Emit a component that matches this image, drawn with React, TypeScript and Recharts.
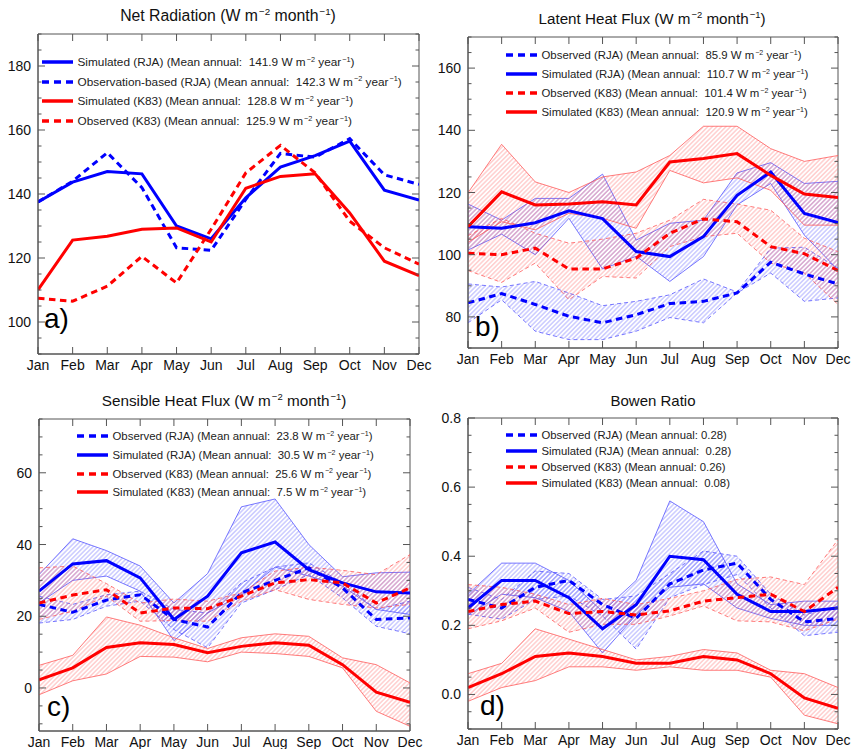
import React from "react"
import { ComposedChart, Line, Area, XAxis, YAxis, ReferenceArea } from "recharts"

const MONTHS = ["Jan", "Feb", "Mar", "Apr", "May", "Jun", "Jul", "Aug", "Sep", "Oct", "Nov", "Dec"]

// a) net radiation
const NET_SIM_RJA = [137.5, 143.7, 147.0, 146.3, 130.0, 126.0, 138.8, 148.4, 152.0, 156.5, 141.2, 138.1]
const NET_OBS_RJA = [137.5, 144.0, 152.9, 142.0, 123.2, 122.4, 138.3, 152.7, 151.5, 157.3, 146.0, 143.0]
const NET_SIM_K83 = [110.0, 125.6, 126.8, 129.0, 129.4, 125.0, 141.8, 145.5, 146.3, 134.1, 119.0, 114.5]
const NET_OBS_K83 = [107.4, 106.5, 111.2, 120.5, 112.2, 129.0, 146.6, 155.2, 146.6, 131.5, 123.2, 118.1]

// b) latent heat flux
const LE_OBS_RJA = [84.5, 87.5, 84.0, 80.2, 78.1, 80.7, 84.3, 85.0, 87.7, 97.6, 93.8, 90.6]
const LE_OBS_RJA_HI = [90.6, 89.6, 91.4, 87.7, 83.6, 85.0, 87.1, 92.2, 88.0, 102.1, 102.4, 95.7]
const LE_OBS_RJA_LO = [78.1, 85.5, 75.4, 72.7, 72.7, 75.4, 79.8, 78.1, 87.7, 94.1, 85.0, 86.1]
const LE_SIM_RJA = [109.0, 108.5, 110.3, 114.1, 111.6, 101.0, 99.4, 105.8, 119.1, 126.6, 113.3, 110.3]
const LE_SIM_RJA_HI = [116.3, 111.1, 118.1, 118.1, 125.9, 104.7, 110.1, 111.1, 126.3, 129.6, 122.9, 123.6]
const LE_SIM_RJA_LO = [101.5, 106.6, 100.0, 111.7, 95.4, 99.5, 91.4, 99.4, 116.0, 122.9, 106.3, 95.1]
const LE_OBS_K83 = [100.5, 100.0, 102.1, 95.4, 95.4, 98.9, 106.9, 111.5, 110.6, 102.6, 100.3, 94.9]
const LE_OBS_K83_HI = [106.1, 111.7, 106.9, 103.7, 105.0, 106.9, 111.1, 117.8, 116.3, 114.3, 105.3, 101.0]
const LE_OBS_K83_LO = [94.9, 91.1, 97.3, 85.5, 93.0, 92.5, 102.6, 105.8, 106.9, 97.3, 94.1, 84.0]
const LE_SIM_K83 = [109.0, 120.2, 116.0, 116.3, 117.0, 116.0, 129.8, 130.9, 132.5, 125.5, 119.5, 118.4]
const LE_SIM_K83_HI = [119.9, 135.5, 123.4, 120.0, 125.0, 126.6, 131.9, 141.3, 141.3, 134.1, 130.0, 131.9]
const LE_SIM_K83_LO = [104.0, 110.6, 108.0, 113.3, 111.7, 108.5, 127.1, 123.1, 124.7, 120.7, 109.5, 109.5]

// c) sensible heat flux
const SH_OBS_RJA = [23.3, 21.1, 24.5, 26.0, 19.1, 17.0, 26.5, 30.0, 33.5, 27.9, 19.1, 19.5]
const SH_OBS_RJA_HI = [25.6, 23.3, 26.0, 27.0, 21.9, 20.9, 29.3, 33.7, 34.9, 29.3, 21.9, 24.2]
const SH_OBS_RJA_LO = [18.1, 19.1, 22.8, 24.2, 16.3, 11.2, 23.7, 27.4, 31.6, 25.1, 17.2, 15.1]
const SH_SIM_RJA = [27.0, 34.6, 35.5, 30.7, 19.1, 25.6, 37.7, 40.7, 33.0, 29.3, 26.8, 26.5]
const SH_SIM_RJA_HI = [31.6, 41.6, 38.3, 34.0, 23.7, 31.9, 50.5, 52.7, 40.0, 31.0, 32.1, 32.3]
const SH_SIM_RJA_LO = [23.7, 30.0, 31.2, 27.0, 13.2, 20.9, 26.0, 33.7, 31.2, 28.4, 21.9, 20.5]
const SH_OBS_K83 = [23.7, 25.9, 27.4, 20.9, 22.3, 22.1, 25.6, 29.3, 30.2, 29.3, 23.7, 27.9]
const SH_OBS_K83_HI = [33.5, 34.0, 29.1, 23.7, 24.8, 24.2, 26.5, 32.6, 33.7, 32.8, 31.6, 37.2]
const SH_OBS_K83_LO = [19.1, 21.4, 25.6, 18.6, 18.8, 18.6, 24.2, 27.4, 24.7, 23.3, 22.3, 23.3]
const SH_SIM_K83 = [2.3, 5.6, 11.3, 12.6, 12.1, 9.8, 11.6, 12.6, 11.9, 6.5, -1.2, -4.0]
const SH_SIM_K83_HI = [6.3, 9.1, 19.8, 17.5, 14.0, 11.0, 14.0, 15.1, 14.4, 8.4, 6.5, 1.4]
const SH_SIM_K83_LO = [-1.9, 2.0, 3.9, 8.8, 8.6, 7.3, 10.0, 9.6, 8.8, 5.6, -6.5, -10.7]

// d) bowen ratio
const BR_OBS_RJA = [0.275, 0.25, 0.31, 0.33, 0.26, 0.22, 0.32, 0.36, 0.38, 0.275, 0.21, 0.22]
const BR_OBS_RJA_HI = [0.31, 0.275, 0.357, 0.35, 0.275, 0.285, 0.35, 0.415, 0.40, 0.29, 0.23, 0.256]
const BR_OBS_RJA_LO = [0.232, 0.218, 0.275, 0.285, 0.227, 0.131, 0.28, 0.318, 0.347, 0.25, 0.17, 0.18]
const BR_SIM_RJA = [0.25, 0.33, 0.33, 0.28, 0.19, 0.26, 0.40, 0.39, 0.29, 0.24, 0.24, 0.25]
const BR_SIM_RJA_HI = [0.29, 0.38, 0.38, 0.33, 0.24, 0.33, 0.56, 0.50, 0.32, 0.26, 0.27, 0.27]
const BR_SIM_RJA_LO = [0.23, 0.29, 0.28, 0.24, 0.12, 0.23, 0.31, 0.32, 0.25, 0.22, 0.20, 0.20]
const BR_OBS_K83 = [0.24, 0.26, 0.27, 0.234, 0.24, 0.23, 0.242, 0.27, 0.28, 0.29, 0.24, 0.31]
const BR_OBS_K83_HI = [0.318, 0.31, 0.29, 0.26, 0.278, 0.26, 0.278, 0.30, 0.333, 0.34, 0.318, 0.448]
const BR_OBS_K83_LO = [0.19, 0.213, 0.25, 0.18, 0.203, 0.203, 0.227, 0.256, 0.213, 0.21, 0.184, 0.218]
const BR_SIM_K83 = [0.02, 0.06, 0.11, 0.12, 0.11, 0.09, 0.09, 0.11, 0.10, 0.06, -0.01, -0.04]
const BR_SIM_K83_HI = [0.06, 0.09, 0.19, 0.16, 0.13, 0.10, 0.11, 0.13, 0.12, 0.07, 0.06, 0.02]
const BR_SIM_K83_LO = [-0.02, 0.02, 0.04, 0.08, 0.08, 0.07, 0.08, 0.07, 0.07, 0.05, -0.06, -0.085]

const FONT = '"Liberation Sans", Arial, Helvetica, sans-serif'
const BLUE = "#0000ff"
const RED = "#ff0000"
const AXIS = "#555"

type Series = {
  key: string
  label: string
  units: boolean
  color: string
  dashed: boolean
  values: number[]
  lo?: number[]
  hi?: number[]
}

type PanelCfg = {
  letter: string
  title: string
  titleUnits: boolean
  titleX: number
  titleY: number
  titleSize: number
  box: { x: number; y: number; w: number; h: number }
  plot: { l: number; r: number; t: number; b: number }
  domain: [number, number]
  tickStart: number
  step: number
  major: number
  fmt: (v: number) => string
  legend: { x: number; y: number; gap: number; size: number }
  letterPos: { x: number; y: number }
  series: Series[]
}

const PANELS: PanelCfg[] = [
  {
    letter: "a)", title: "Net Radiation", titleUnits: true, titleX: 228, titleY: 16, titleSize: 15.8,
    box: { x: 0, y: 0, w: 425, h: 375 }, plot: { l: 38, r: 419, t: 34, b: 354 },
    domain: [90, 190], tickStart: 90, step: 5, major: 20, fmt: v => String(v),
    legend: { x: 42, y: 62, gap: 19.7, size: 11.8 }, letterPos: { x: 44, y: 305 },
    series: [
      { key: "simRja", label: "Simulated (RJA) (Mean annual:  141.9", units: true, color: BLUE, dashed: false, values: NET_SIM_RJA },
      { key: "obsRja", label: "Observation-based (RJA) (Mean annual:  142.3", units: true, color: BLUE, dashed: true, values: NET_OBS_RJA },
      { key: "simK83", label: "Simulated (K83) (Mean annual:  128.8", units: true, color: RED, dashed: false, values: NET_SIM_K83 },
      { key: "obsK83", label: "Observed (K83) (Mean annual:  125.9", units: true, color: RED, dashed: true, values: NET_OBS_K83 },
    ],
  },
  {
    letter: "b)", title: "Latent Heat Flux", titleUnits: true, titleX: 652, titleY: 18, titleSize: 15.2,
    box: { x: 425, y: 0, w: 426, h: 375 }, plot: { l: 468, r: 838, t: 37, b: 348 },
    domain: [70, 170], tickStart: 70, step: 5, major: 20, fmt: v => String(v),
    legend: { x: 506, y: 55, gap: 19, size: 11.4 }, letterPos: { x: 475, y: 313 },
    series: [
      { key: "obsRja", label: "Observed (RJA) (Mean annual:  85.9", units: true, color: BLUE, dashed: true, values: LE_OBS_RJA, lo: LE_OBS_RJA_LO, hi: LE_OBS_RJA_HI },
      { key: "simRja", label: "Simulated (RJA) (Mean annual:  110.7", units: true, color: BLUE, dashed: false, values: LE_SIM_RJA, lo: LE_SIM_RJA_LO, hi: LE_SIM_RJA_HI },
      { key: "obsK83", label: "Observed (K83) (Mean annual:  101.4", units: true, color: RED, dashed: true, values: LE_OBS_K83, lo: LE_OBS_K83_LO, hi: LE_OBS_K83_HI },
      { key: "simK83", label: "Simulated (K83) (Mean annual:  120.9", units: true, color: RED, dashed: false, values: LE_SIM_K83, lo: LE_SIM_K83_LO, hi: LE_SIM_K83_HI },
    ],
  },
  {
    letter: "c)", title: "Sensible Heat Flux", titleUnits: true, titleX: 224, titleY: 401, titleSize: 15.3,
    box: { x: 0, y: 375, w: 425, h: 374 }, plot: { l: 39, r: 410, t: 419, b: 731 },
    domain: [-12, 75], tickStart: -10, step: 5, major: 20, fmt: v => String(v),
    legend: { x: 77, y: 436, gap: 18.8, size: 11.4 }, letterPos: { x: 47, y: 693 },
    series: [
      { key: "obsRja", label: "Observed (RJA) (Mean annual:  23.8", units: true, color: BLUE, dashed: true, values: SH_OBS_RJA, lo: SH_OBS_RJA_LO, hi: SH_OBS_RJA_HI },
      { key: "simRja", label: "Simulated (RJA) (Mean annual:  30.5", units: true, color: BLUE, dashed: false, values: SH_SIM_RJA, lo: SH_SIM_RJA_LO, hi: SH_SIM_RJA_HI },
      { key: "obsK83", label: "Observed (K83) (Mean annual:  25.6", units: true, color: RED, dashed: true, values: SH_OBS_K83, lo: SH_OBS_K83_LO, hi: SH_OBS_K83_HI },
      { key: "simK83", label: "Simulated (K83) (Mean annual:  7.5", units: true, color: RED, dashed: false, values: SH_SIM_K83, lo: SH_SIM_K83_LO, hi: SH_SIM_K83_HI },
    ],
  },
  {
    letter: "d)", title: "Bowen Ratio", titleUnits: false, titleX: 653, titleY: 400, titleSize: 15,
    box: { x: 425, y: 375, w: 426, h: 374 }, plot: { l: 468, r: 838, t: 418, b: 729 },
    domain: [-0.1, 0.8], tickStart: -0.1, step: 0.05, major: 0.2, fmt: v => v.toFixed(1),
    legend: { x: 506, y: 435, gap: 16.1, size: 11.3 }, letterPos: { x: 480, y: 692 },
    series: [
      { key: "obsRja", label: "Observed (RJA) (Mean annual: 0.28", units: false, color: BLUE, dashed: true, values: BR_OBS_RJA, lo: BR_OBS_RJA_LO, hi: BR_OBS_RJA_HI },
      { key: "simRja", label: "Simulated (RJA) (Mean annual:  0.28", units: false, color: BLUE, dashed: false, values: BR_SIM_RJA, lo: BR_SIM_RJA_LO, hi: BR_SIM_RJA_HI },
      { key: "obsK83", label: "Observed (K83) (Mean annual: 0.26", units: false, color: RED, dashed: true, values: BR_OBS_K83, lo: BR_OBS_K83_LO, hi: BR_OBS_K83_HI },
      { key: "simK83", label: "Simulated (K83) (Mean annual:  0.08", units: false, color: RED, dashed: false, values: BR_SIM_K83, lo: BR_SIM_K83_LO, hi: BR_SIM_K83_HI },
    ],
  },
]

const Sup = ({ children }: { children: React.ReactNode }) => (
  <span style={{ fontSize: "0.62em", position: "relative", top: "-0.6em", marginLeft: 1 }}>{children}</span>
)

function buildRows(series: Series[]) {
  return MONTHS.map((_, i) => {
    const row: Record<string, any> = { m: i }
    series.forEach(s => {
      row[s.key] = s.values[i]
      if (s.lo && s.hi) row[s.key + "Band"] = [s.lo[i], s.hi[i]]
    })
    return row
  })
}

function Panel({ p }: { p: PanelCfg }) {
  const { box, plot } = p
  const YW = 30
  const XH = 18
  const pw = plot.r - plot.l
  const ph = plot.b - plot.t
  const margin = {
    left: plot.l - box.x - YW,
    top: plot.t - box.y,
    right: box.x + box.w - plot.r,
    bottom: box.y + box.h - plot.b - XH,
  }
  const rows = buildRows(p.series)
  const yTicks: number[] = []
  for (let v = p.tickStart; v <= p.domain[1] + 1e-9; v += p.step) yTicks.push(+v.toFixed(4))
  const isMajor = (v: number) => Math.abs(v / p.major - Math.round(v / p.major)) < 1e-6

  const yTick = (t: any) => {
    const ax = t.x + 7
    const v = t.payload.value
    const major = isMajor(v)
    const len = major ? 7 : 3.5
    return (
      <g>
        <line x1={ax} x2={ax + len} y1={t.y} y2={t.y} stroke={AXIS} />
        <line x1={ax + pw} x2={ax + pw - len} y1={t.y} y2={t.y} stroke={AXIS} />
        {major && (
          <text x={t.x} y={t.y} dy="0.36em" textAnchor="end" fontSize={14} fill="#111" fontFamily={FONT}>
            {p.fmt(v)}
          </text>
        )}
      </g>
    )
  }

  const xTick = (t: any) => {
    const ay = t.y - 4
    return (
      <g>
        <line x1={t.x} x2={t.x} y1={ay} y2={ay - 7} stroke={AXIS} />
        <line x1={t.x} x2={t.x} y1={ay - ph} y2={ay - ph + 7} stroke={AXIS} />
        <text x={t.x} y={ay + 16} textAnchor="middle" fontSize={14} fill="#111" fontFamily={FONT}>
          {MONTHS[t.payload.value]}
        </text>
      </g>
    )
  }

  const banded = p.series.filter(s => s.lo && s.hi)

  return (
    <>
      <div style={{ position: "absolute", left: box.x, top: box.y }}>
        <ComposedChart width={box.w} height={box.h} data={rows} margin={margin}>
          <XAxis type="number" dataKey="m" domain={[0, 11]} ticks={MONTHS.map((_, i) => i)} interval={0}
            tickSize={0} tickMargin={4} height={XH} stroke={AXIS} tickLine={false} tick={xTick} allowDataOverflow />
          <YAxis type="number" domain={p.domain} ticks={yTicks} interval={0} width={YW}
            tickSize={0} tickMargin={7} stroke={AXIS} tickLine={false} tick={yTick} allowDataOverflow />
          <ReferenceArea x1={0} x2={11} y1={p.domain[0]} y2={p.domain[1]} fill="none" stroke={AXIS} strokeWidth={1} />
          {banded.map(s => (
            <Area key={s.key + "Band"} dataKey={s.key + "Band"} type="linear"
              stroke={s.color === BLUE ? "#5555ff" : "#ff5a5a"} strokeWidth={0.8}
              strokeDasharray={s.dashed ? "4 3" : undefined}
              fill={s.color === BLUE ? "url(#hatchBlue)" : "url(#hatchRed)"} fillOpacity={1}
              dot={false} activeDot={false} isAnimationActive={false} />
          ))}
          {p.series.map(s => (
            <Line key={s.key} dataKey={s.key} type="linear" stroke={s.color} strokeWidth={3}
              strokeDasharray={s.dashed ? "6.5 4.5" : undefined}
              dot={false} activeDot={false} isAnimationActive={false} />
          ))}
        </ComposedChart>
      </div>
      <div style={{
        position: "absolute", left: p.titleX, top: p.titleY, transform: "translate(-50%, -50%)",
        fontSize: p.titleSize, whiteSpace: "nowrap", color: "#111", fontFamily: FONT,
      }}>
        {p.title}
        {p.titleUnits && <> (W m<Sup>−2</Sup> month<Sup>−1</Sup>)</>}
      </div>
      {p.series.map((s, i) => (
        <div key={s.key} style={{
          position: "absolute", left: p.legend.x, top: p.legend.y + i * p.legend.gap - 8, height: 16,
          display: "flex", alignItems: "center", whiteSpace: "pre", fontSize: p.legend.size, color: "#222", fontFamily: FONT,
        }}>
          <svg width={31} height={8} style={{ marginRight: 4.5 }}>
            <line x1={0} x2={31} y1={4} y2={4} stroke={s.color} strokeWidth={3.5}
              strokeDasharray={s.dashed ? "7 5" : undefined} />
          </svg>
          <span>
            {s.label}
            {s.units ? <> W m<Sup>−2</Sup> year<Sup>−1</Sup>)</> : ")"}
          </span>
        </div>
      ))}
      <div style={{
        position: "absolute", left: p.letterPos.x, top: p.letterPos.y, fontSize: 28, lineHeight: "28px",
        color: "#000", fontFamily: FONT,
      }}>
        {p.letter}
      </div>
    </>
  )
}

export default function App() {
  return (
    <div style={{ position: "relative", width: 851, height: 749, background: "#fff", fontFamily: FONT, overflow: "hidden" }}>
      <style>{`body{margin:0} .recharts-surface{overflow:visible}`}</style>
      <svg width={0} height={0} style={{ position: "absolute" }}>
        <defs>
          <pattern id="hatchBlue" patternUnits="userSpaceOnUse" width={3.2} height={3.2} patternTransform="rotate(45)">
            <line x1={1.6} y1={0} x2={1.6} y2={3.2} stroke="#4a4aff" strokeWidth={0.8} strokeOpacity={0.55} />
          </pattern>
          <pattern id="hatchRed" patternUnits="userSpaceOnUse" width={3.2} height={3.2} patternTransform="rotate(45)">
            <line x1={1.6} y1={0} x2={1.6} y2={3.2} stroke="#ff4a4a" strokeWidth={0.8} strokeOpacity={0.5} />
          </pattern>
        </defs>
      </svg>
      {PANELS.map(p => <Panel key={p.letter} p={p} />)}
    </div>
  )
}
